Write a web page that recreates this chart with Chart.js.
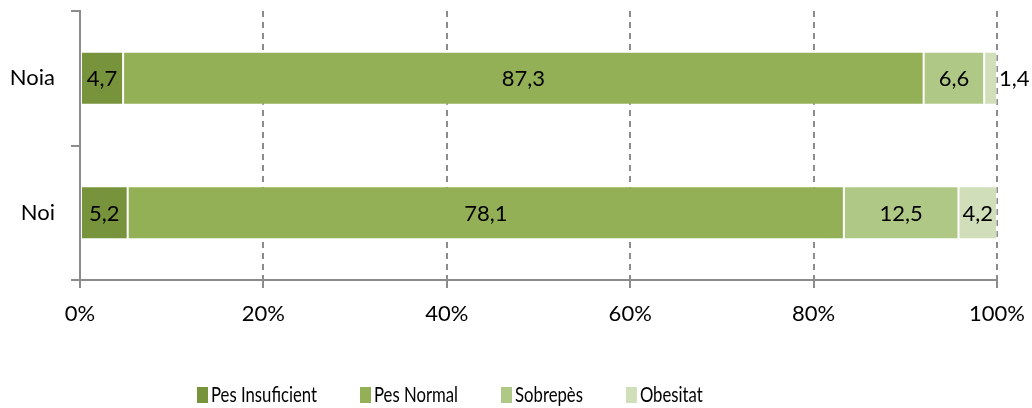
<!DOCTYPE html>
<html lang='ca'>
<head>
    <meta charset='UTF-8'>
    <title>Pes per sexe</title>
    <style>
        body { margin: 0; padding: 0; background: #fff; }
        .wrap { width: 1032px; height: 408px; position: relative; }
    </style>
</head>
<body>
    <div class='wrap'>
        <canvas id='chart' width='1032' height='408'></canvas>
    </div>

    <script src='https://cdn.jsdelivr.net/npm/chart.js'></script>
    <script>
        const categories = ['Noia', 'Noi'];
        const seriesNames = ['Pes Insuficient', 'Pes Normal', 'Sobrepès', 'Obesitat'];
        const pesInsuficient = [4.7, 5.2];
        const pesNormal = [87.3, 78.1];
        const sobrepes = [6.6, 12.5];
        const obesitat = [1.4, 4.2];
        const xTickValues = [0, 20, 40, 60, 80, 100];

        const colors = ['#77933C', '#93B056', '#AFC886', '#D0DEB9'];
        const FONT = 'Lato, "Open Sans", sans-serif';
        const gray = '#8C8C8C';

        const fmt = v => v.toFixed(1).replace('.', ',');

        // labels inside each segment, or just past the end if it doesn't fit
        const valueLabels = {
            id: 'valueLabels',
            afterDatasetsDraw(chart) {
                const ctx = chart.ctx;
                ctx.save();
                ctx.font = '22px ' + FONT;
                ctx.fillStyle = '#000';
                ctx.textBaseline = 'middle';
                chart.data.datasets.forEach((ds, di) => {
                    const meta = chart.getDatasetMeta(di);
                    meta.data.forEach((bar, i) => {
                        const txt = fmt(ds.data[i]);
                        const w = bar.x - bar.base;
                        const tw = ctx.measureText(txt).width;
                        if (tw + 6 < w) {
                            ctx.textAlign = 'center';
                            ctx.fillText(txt, (bar.x + bar.base) / 2, bar.y + 1);
                        } else {
                            ctx.textAlign = 'left';
                            ctx.fillText(txt, bar.x + 2, bar.y + 1);
                        }
                    });
                });
                ctx.restore();
            }
        };

        // legend along the bottom (text squeezed a bit, like the original)
        const bottomLegend = {
            id: 'bottomLegend',
            afterDraw(chart) {
                const ctx = chart.ctx;
                const squeeze = 0.76;
                ctx.save();
                ctx.font = '22px ' + FONT;
                ctx.textBaseline = 'middle';
                ctx.textAlign = 'left';
                let x = 197;
                const y = 395;
                chart.data.datasets.forEach(ds => {
                    ctx.fillStyle = ds.backgroundColor;
                    ctx.fillRect(x, y - 8, 11, 16);
                    ctx.fillStyle = '#000';
                    ctx.save();
                    ctx.translate(x + 14, y);
                    ctx.scale(squeeze, 1);
                    ctx.fillText(ds.label, 0, 0);
                    ctx.restore();
                    x += 14 + ctx.measureText(ds.label).width * squeeze + 43;
                });
                ctx.restore();
            }
        };

        const seriesData = [pesInsuficient, pesNormal, sobrepes, obesitat];

        new Chart(document.getElementById('chart'), {
            type: 'bar',
            data: {
                labels: categories,
                datasets: seriesNames.map((name, k) => ({
                    label: name,
                    data: seriesData[k],
                    backgroundColor: colors[k],
                    borderColor: 'rgba(255,255,255,0.45)',
                    borderWidth: 1,
                    borderSkipped: false,
                    categoryPercentage: 1,
                    barPercentage: 0.395
                }))
            },
            options: {
                indexAxis: 'y',
                responsive: false,
                animation: false,
                layout: { padding: { top: 11, right: 35, left: 0, bottom: 0 } },
                plugins: {
                    legend: { display: false },
                    tooltip: { enabled: false }
                },
                scales: {
                    x: {
                        stacked: true,
                        min: 0,
                        max: 100,
                        afterBuildTicks: s => { s.ticks = xTickValues.map(v => ({ value: v })); },
                        afterFit: s => { s.height = 128; s.paddingRight = 0; s.paddingLeft = 0; },
                        ticks: {
                            callback: v => v + '%',
                            color: '#000',
                            font: { family: FONT, size: 22 },
                            padding: 13,
                            maxRotation: 0
                        },
                        grid: {
                            color: gray,
                            lineWidth: 2,
                            tickLength: 8
                        },
                        border: { display: true, color: gray, width: 2, dash: [6, 5] }
                    },
                    y: {
                        stacked: true,
                        afterFit: s => { s.width = 80; s.paddingTop = 0; s.paddingBottom = 0; },
                        ticks: {
                            color: '#000',
                            font: { family: FONT, size: 22 },
                            padding: 16
                        },
                        grid: {
                            offset: true,
                            drawOnChartArea: false,
                            color: gray,
                            lineWidth: 2,
                            tickLength: 9
                        },
                        border: { display: true, color: gray, width: 2 }
                    }
                }
            },
            plugins: [valueLabels, bottomLegend]
        });
    </script>
</body>
</html>
